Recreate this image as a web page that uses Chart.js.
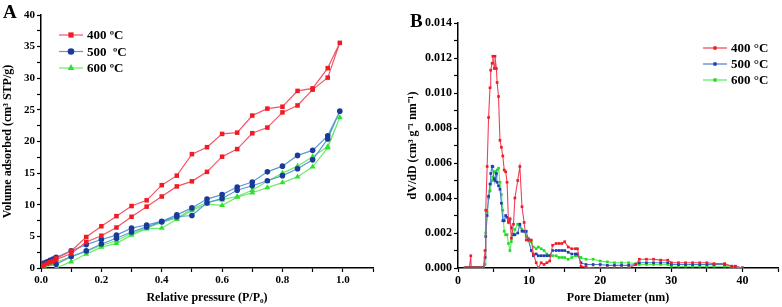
<!DOCTYPE html>
<html>
<head>
<meta charset="utf-8">
<script src="https://cdn.jsdelivr.net/npm/chart.js@4"></script>
<style>
  body { margin: 0; background: #fff; }
  #wrap { position: relative; width: 782px; height: 307px; }
  #cA { position: absolute; left: 0; top: 0; }
  #cB { position: absolute; left: 390px; top: 0; }
  .tag { position: absolute; font: bold 19px "Liberation Serif", serif; color: #000; }
</style>
</head>
<body>
<div id="wrap">
  <canvas id="cA" width="390" height="307"></canvas>
  <canvas id="cB" width="392" height="307"></canvas>
  <div class="tag" style="left:3px;top:1px;">A</div>
  <div class="tag" style="left:410px;top:10px;">B</div>
</div>
<script>
// ---- panel A: isotherms ----
const adsP = [0.005, 0.01, 0.02, 0.03, 0.04, 0.05, 0.1, 0.15, 0.2, 0.25, 0.3, 0.35, 0.4, 0.45, 0.5, 0.55, 0.6, 0.65, 0.7, 0.75, 0.8, 0.85, 0.9, 0.95, 0.99];
const desP = [0.95, 0.9, 0.85, 0.8, 0.75, 0.7, 0.65, 0.6, 0.55, 0.5, 0.45, 0.4, 0.35, 0.3, 0.25, 0.2, 0.15, 0.1, 0.05];

const ads400 = [0.3, 0.5, 0.7, 0.9, 1.1, 1.3, 2.3, 4.1, 5.1, 6.4, 8.1, 9.7, 11.3, 12.9, 13.7, 15.2, 17.6, 18.8, 21.3, 22.2, 24.6, 25.7, 28.2, 30.1, 35.6];
const des400 = [31.6, 28.4, 28.0, 25.5, 25.2, 24.1, 21.4, 21.2, 19.1, 18.0, 14.6, 13.1, 10.7, 9.8, 8.2, 6.6, 4.9, 2.7, 1.5];
const ads500 = [0.5, 0.8, 1.0, 1.2, 1.4, 1.7, 2.7, 3.7, 4.5, 5.2, 6.3, 6.8, 7.4, 8.4, 9.5, 10.9, 11.6, 12.8, 13.6, 15.2, 16.1, 17.8, 18.6, 20.9, 24.8];
const des500 = [20.4, 17.1, 15.7, 14.6, 13.8, 13.0, 12.3, 11.0, 10.3, 8.3, 8.1, 7.3, 6.5, 5.7, 4.7, 3.8, 2.7, 1.8, 0.6];
const ads600 = [0.2, 0.3, 0.5, 0.6, 0.8, 0.9, 1.8, 2.6, 3.6, 4.3, 5.5, 6.3, 7.2, 7.9, 9.3, 10.4, 10.8, 11.3, 12.3, 13.7, 15.0, 16.1, 17.6, 19.2, 23.8];
const des600 = [19.0, 16.0, 14.4, 13.5, 12.7, 11.9, 11.2, 9.9, 10.1, 9.1, 7.7, 6.3, 6.2, 5.2, 3.9, 3.3, 2.2, 1.0, 0.0];

// ---- panel B: pore size distribution ----
const poreD = [1.0, 1.2, 1.4, 1.6, 1.8, 1.85, 2.0, 2.2, 2.4, 2.6, 2.8, 3.0, 3.2, 3.4, 3.6, 3.8, 3.9, 4.1, 4.3, 4.5,
  4.6, 4.8, 4.9, 5.1, 5.2, 5.4, 5.5, 5.7, 5.9, 6.1, 6.3, 6.5, 6.7, 6.9, 7.1, 7.3, 7.5, 7.8, 8.0, 8.4,
  8.7, 9.0, 9.3, 9.6, 9.9, 10.3, 10.6, 11.0, 11.3, 11.7, 12.1, 12.5, 12.9, 13.3, 13.8, 14.2, 14.6, 15.0, 15.5, 16.0,
  16.5, 16.8, 17.3, 18, 19, 20, 21, 22, 23, 24, 25, 25.5, 26.5, 27.5, 28.5, 29.5, 30, 31, 32, 33,
  34, 35, 36, 37.5, 38.5, 39, 40];
const psd400 = [0, 0, 0, 0, 0.0007, 0, 0, 0, 0, 0, 0, 0, 0, 0, 0, 0.0010, 0.0033, 0.0058, 0.0086, 0.0103,
  0.0113, 0.0117, 0.0121, 0.0114, 0.0121, 0.0114, 0.0106, 0.0098, 0.0073, 0.0069, 0.0064, 0.0056, 0.0055, 0.0049, 0.0026, 0.0028, 0.0017, 0.0025, 0.0040, 0.0050,
  0.0058, 0.0035, 0.0026, 0.0016, 0.0016, 0.0016, 0.0008, 0.0003, 0.0000, 0.0003, 0.0002, 0.0003, 0.0004, 0.0013, 0.0014, 0.0014, 0.0014, 0.0015, 0.0012, 0.0011,
  0.0011, 0.0011, 0.0001, 0.00005, 0, 0, 0, 0, 0, 0, 0.0002, 0.0005, 0.0005, 0.0005, 0.00045, 0.00045, 0.0003, 0.0003, 0.0003, 0.0003,
  0.0003, 0.0003, 0.00025, 0.00025, 0.0001, 0.0001, 0];
const psd500 = [0, 0, 0, 0, 0, 0, 0, 0, 0, 0, 0, 0, 0, 0, 0, 0.0006, 0.0018, 0.0030, 0.0041, 0.0048,
  0.0054, 0.0058, 0.0058, 0.0051, 0.0050, 0.0054, 0.0049, 0.0047, 0.0045, 0.0037, 0.0027, 0.0027, 0.0030, 0.0029, 0.0027, 0.0028, 0.0023, 0.0019, 0.0019, 0.0020,
  0.0025, 0.0021, 0.0021, 0.0021, 0.0016, 0.0010, 0.0007, 0.0008, 0.0007, 0.0007, 0.0007, 0.0007, 0.0007, 0.0010, 0.0010, 0.0010, 0.0010, 0.0010, 0.0009, 0.0008,
  0.0008, 0.0008, 0.0003, 0.0002, 0.0002, 0.0002, 0.00015, 0.00015, 0.00015, 0.00015, 0.0002, 0.0003, 0.0003, 0.0003, 0.0003, 0.0003, 0.0002, 0.0002, 0.0002, 0.0002,
  0.0002, 0.0002, 0.0002, 0.0002, 0.0001, 0.0001, 0];
const psd600 = [0, 0, 0, 0, 0, 0, 0, 0, 0, 0, 0, 0, 0, 0, 0, 0.0002, 0.0020, 0.0032, 0.0040, 0.0044,
  0.0048, 0.0050, 0.0052, 0.0055, 0.0055, 0.0053, 0.0056, 0.0057, 0.0049, 0.0042, 0.0033, 0.0021, 0.0019, 0.0019, 0.0014, 0.0010, 0.0015, 0.0019, 0.0022, 0.0025,
  0.0024, 0.0022, 0.0021, 0.0018, 0.0017, 0.0015, 0.0012, 0.0011, 0.0012, 0.0011, 0.0010, 0.0008, 0.0007, 0.0007, 0.0007, 0.0006, 0.0006, 0.0006, 0.0005, 0.0006,
  0.0007, 0.0007, 0.0006, 0.0005, 0.0005, 0.0004, 0.00035, 0.0003, 0.0003, 0.0003, 0.00025, 0.0002, 0.0002, 0.0002, 0.0002, 0.0002, 0.0001, 0.0001, 0.0001, 0.0001,
  0.0001, 0.0001, 0.0001, 0.0001, 0.00005, 0.00005, 0];

const labelsA = ['400 ºC', '500  ºC', '600 ºC'];
const labelsB = ['400 °C', '500 °C', '600 °C'];

const serif = '"Liberation Serif", "Times New Roman", serif';

function loop(ads, des) {
    // adsorption branch up, desorption branch back down
    const pts = adsP.map((p, i) => ({ x: p, y: ads[i] }));
    return pts.concat(desP.map((p, i) => ({ x: p, y: des[i] })));
}
function curve(vals) {
    return poreD.map((d, i) => ({ x: d, y: vals[i] }));
}

// legend drawn inside the plot area
const insideLegend = {
    id: 'insideLegend',
    afterDraw(chart, args, opts) {
        const ctx = chart.ctx;
        ctx.save();
        chart.data.datasets.forEach((ds, i) => {
            const y = opts.y + i * opts.gap;
            ctx.strokeStyle = ds.borderColor;
            ctx.lineWidth = 1.2;
            ctx.beginPath();
            ctx.moveTo(opts.x, y);
            ctx.lineTo(opts.x + opts.len, y);
            ctx.stroke();
            ctx.fillStyle = ds.pointBackgroundColor;
            ctx.strokeStyle = ds.pointBackgroundColor;
            Chart.helpers.drawPoint(ctx, { pointStyle: ds.pointStyle, radius: ds.pointRadius + 0.5, rotation: 0, borderWidth: 0 }, opts.x + opts.len / 2, y);
            ctx.fillStyle = '#000';
            ctx.font = 'bold 13px ' + serif;
            ctx.textBaseline = 'middle';
            ctx.fillText(ds.label, opts.x + opts.len + 4, y + 1);
        });
        ctx.restore();
    }
};

function axis(min, max, step, major, fmt, title, size, fs) {
    return {
        type: 'linear',
        min: min,
        max: max,
        border: { display: true, color: '#000', width: 1.5 },
        grid: { drawOnChartArea: false, drawTicks: true, tickLength: 4, tickColor: '#000', tickWidth: 1.2 },
        ticks: {
            stepSize: step,
            color: '#000',
            padding: 2,
            maxRotation: 0,
            autoSkip: false,
            font: { family: serif, weight: 'bold', size: fs },
            callback: function (v) {
                const k = Math.round(v / step);
                if (k % major !== 0) return '';
                return fmt(v);
            }
        },
        title: { display: true, text: title, color: '#000', padding: { top: 1, bottom: 2 }, font: { family: serif, weight: 'bold', size: 12 } },
        afterFit: function (s) {
            if (s.isHorizontal()) s.height = size; else s.width = size;
        }
    };
}

new Chart(document.getElementById('cA'), {
    type: 'scatter',
    data: {
        datasets: [
            { label: labelsA[0], data: loop(ads400, des400), borderColor: '#f25565', pointBackgroundColor: '#f01c24', pointBorderColor: '#f01c24', pointStyle: 'rect', pointRadius: 3.2 },
            { label: labelsA[1], data: loop(ads500, des500), borderColor: '#5b9bd5', pointBackgroundColor: '#1a3a9a', pointBorderColor: '#1a3a9a', pointStyle: 'circle', pointRadius: 2.8 },
            { label: labelsA[2], data: loop(ads600, des600), borderColor: '#6eea6e', pointBackgroundColor: '#2fe02f', pointBorderColor: '#2fe02f', pointStyle: 'triangle', pointRadius: 3.4 }
        ].map(d => Object.assign(d, { showLine: true, borderWidth: 1.2, pointBorderWidth: 0, tension: 0 }))
    },
    options: {
        responsive: false,
        animation: false,
        layout: { padding: { left: 0, top: 15, right: 17, bottom: 0 } },
        plugins: {
            legend: { display: false },
            tooltip: { enabled: false },
            insideLegend: { x: 59, y: 35, gap: 16.5, len: 24 }
        },
        scales: {
            x: axis(0, 1.1, 0.1, 2, v => v.toFixed(1), 'Relative pressure (P/P\u2080)', 39, 11),
            y: axis(0, 40, 2.5, 2, v => String(Math.round(v)), 'Volume adsorbed (cm\u00b3 STP/g)', 41, 11)
        }
    },
    plugins: [insideLegend]
});

new Chart(document.getElementById('cB'), {
    type: 'scatter',
    data: {
        datasets: [
            { label: labelsB[0], data: curve(psd400), borderColor: '#f2405a', pointBackgroundColor: '#ee1c24' },
            { label: labelsB[1], data: curve(psd500), borderColor: '#4a7fd0', pointBackgroundColor: '#1f3fb0' },
            { label: labelsB[2], data: curve(psd600), borderColor: '#5fe85f', pointBackgroundColor: '#22dd22' }
        ].map(d => Object.assign(d, { showLine: true, borderWidth: 1.1, pointStyle: 'rect', pointRadius: 1.9, pointBorderWidth: 0, pointBorderColor: d.pointBackgroundColor, tension: 0 }))
    },
    options: {
        responsive: false,
        animation: false,
        layout: { padding: { left: 15, top: 23, right: 3, bottom: 0 } },
        plugins: {
            legend: { display: false },
            tooltip: { enabled: false },
            insideLegend: { x: 313, y: 48, gap: 16, len: 24 }
        },
        scales: {
            x: axis(0, 45, 5, 2, v => String(Math.round(v)), 'Pore Diameter (nm)', 39, 12),
            y: axis(0, 0.014, 0.001, 2, v => v.toFixed(3), 'dV/dD (cm\u00b3 g\u207b\u00b9 nm\u207b\u00b9)', 53, 12)
        }
    },
    plugins: [insideLegend]
});
</script>
</body>
</html>
